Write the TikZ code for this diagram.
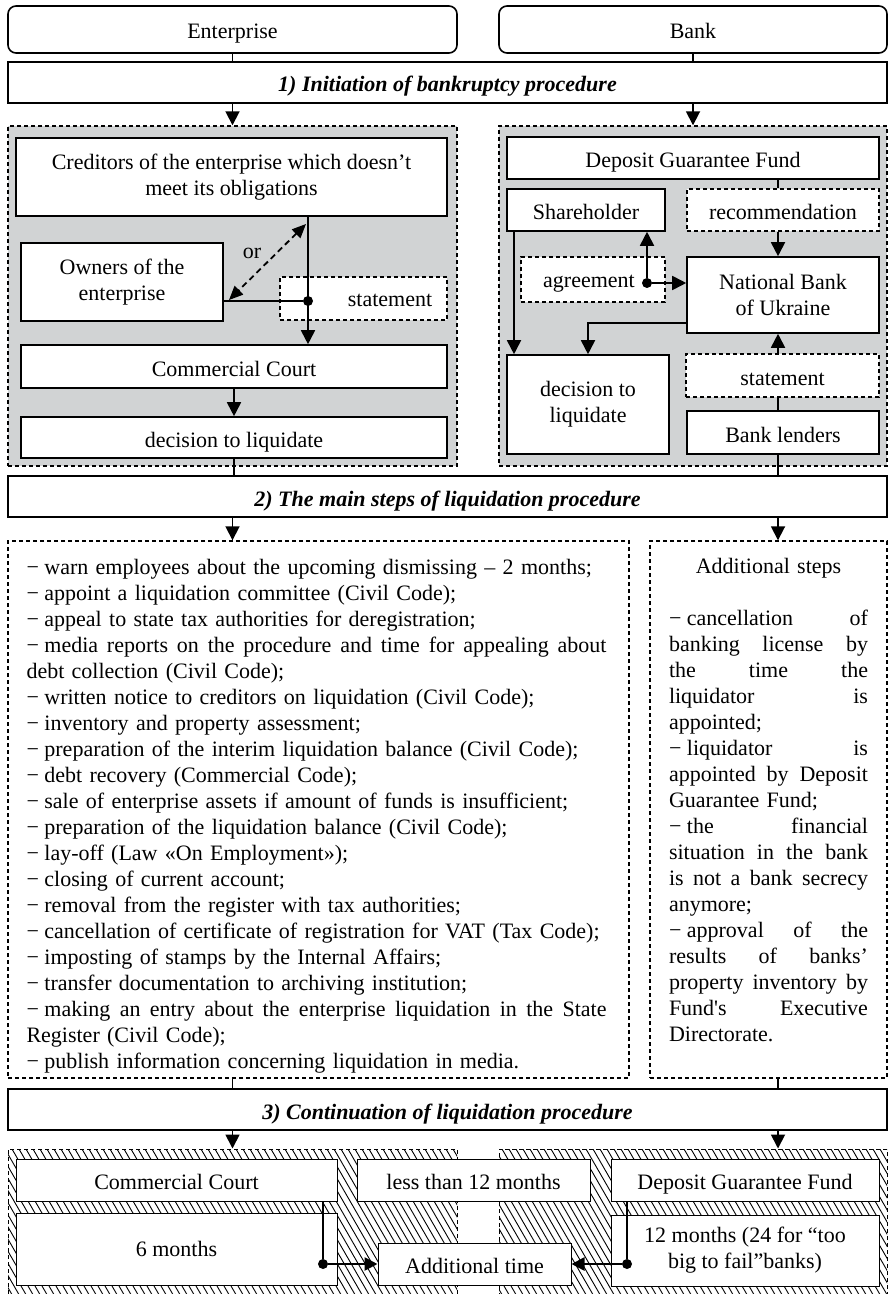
\documentclass[tikz,border=0pt]{standalone}
\usepackage{fontspec}
\setmainfont{Liberation Serif}
\usetikzlibrary{arrows.meta}
\usetikzlibrary{fit}
\definecolor{shade}{HTML}{D1D3D4}
\newcommand{\jl}[2]{\makebox[#1][s]{\spaceskip=.25em plus 1fil\relax#2}}
\newcommand{\mn}{−\hspace{.25em}}
\tikzset{sz/.style 2 args={minimum width=#1*.5pt, minimum height=#2*.5pt}}
\tikzstyle{one} = [text height=9.5pt, text depth=0pt]
\tikzstyle{blk} = [draw, line width=.8pt, fill=white, inner sep=0pt, align=center]
\tikzstyle{dsh} = [blk, line width=.7pt, dash pattern=on 2pt off 1.5pt]
\tikzstyle{lite} = [draw, line width=.5pt, fill=white, inner sep=0pt, align=center]
\tikzstyle{stage} = [blk, one, font=\fontsize{11}{13}\selectfont\bfseries\itshape]
\tikzstyle{zone} = [draw, line width=.7pt, dash pattern=on 2pt off 1.5pt, fill=shade, inner sep=0pt]
\tikzstyle{hzone} = [draw, line width=.5pt, dash pattern=on 2pt off 1.5pt, inner sep=0pt]
\tikzstyle{hatch} = [line width=.45pt]
\tikzstyle{link} = [line width=.9pt]
\tikzstyle{arr} = [link, -{Triangle[length=7pt,width=7pt]}]
\tikzstyle{arrth} = [line width=1.3pt, -{Triangle[length=6.5pt,width=6.5pt]}]
\tikzstyle{jn} = [circle, fill, inner sep=0pt, minimum size=5pt]

\begin{document}
\begin{tikzpicture}[x=.5pt, y=-.5pt, font=\fontsize{11}{13}\selectfont]
\path[use as bounding box, clip] (0,0) rectangle (889,1294);
\coordinate (colR) at (778,0);
\coordinate (colS) at (514,0);
\coordinate (kNB) at (588,323);

\node[blk, one, rounded corners=4pt, sz={449}{47}] (ent) at (232.5,29.5) {Enterprise};
\node[blk, one, rounded corners=4pt, sz={388}{47}] (bank) at (693,29.5) {Bank};
\node[stage, sz={879}{41}] (st1) at (447.5,82.5) {1) Initiation of bankruptcy procedure};
\draw[link] (ent.south) -- (ent.south |- st1.north);
\draw[link] (bank.south) -- (bank.south |- st1.north);

\node[zone, fit={(8,126)(457,466)}] (gL) {};
\node[zone, fit={(499,126)(887,466)}] (gR) {};
\draw[arr] (st1.south -| ent) -- (gL.north -| ent);
\draw[arr] (st1.south -| bank) -- (gR.north -| bank);

\node[blk, sz={431}{78}] (cred) at (231.5,177) {Creditors of the enterprise which doesn’t\\meet its obligations};
\node[blk, sz={202}{78}] (own) at (122,282) {Owners of the\\enterprise};
\node[dsh, fit={(280,277)(447,320)}] (stmL) {};
\node[one] (stmLt) at (390,297) {statement};
\node (or) at (252,253) {or};
\node[blk, one, sz={426}{43}] (courtL) at (234,366.5) {Commercial Court};
\node[blk, one, sz={426}{41}] (decL) at (234,437.5) {decision to liquidate};
\node[jn] (j1) at (308,301) {};
\coordinate (orA) at (306,224);
\coordinate (orB) at (229,300);
\draw[arr] (cred.south -| j1) -- (courtL.north -| j1);
\draw[link] (own.east |- j1) -- (j1);
\draw[link, dash pattern=on 3pt off 2pt, {Triangle[length=7pt,width=6pt]}-{Triangle[length=7pt,width=6pt]}] (orA) -- (orB);
\draw[arr] (courtL) -- (decL);

\node[blk, one, sz={372}{42}] (dgf) at (693,158) {Deposit Guarantee Fund};
\node[blk, one, sz={158}{42}] (sh) at (586,210) {Shareholder};
\node[dsh, one, sz={192}{42}] (rec) at (783,210) {recommendation};
\node[blk, sz={192}{76}] (nbu) at (783,295) {National Bank\\of Ukraine};
\node[dsh, fit={(521,257)(665,302)}] (agr) {};
\node[one] (agrt) at (589,278) {agreement};
\node[blk, sz={162}{99}] (decR) at (588,404.5) {decision to\\liquidate};
\node[dsh, one, sz={193}{43}] (stmR) at (782.5,375.5) {statement};
\node[blk, one, sz={192}{43}] (lend) at (783,432.5) {Bank lenders};
\node[jn] (j2) at (647,283) {};
\draw[link] (dgf.south -| colR) -- (rec.north -| colR);
\draw[arr] (rec.south -| colR) -- (nbu.north -| colR);
\draw[arr] (j2) -- (j2 |- sh.south);
\draw[arr] (j2) -- (nbu.west |- j2);
\draw[arr] (sh.south -| colS) -- (decR.north -| colS);
\draw[arr] (nbu.west |- kNB) -| (decR.north);
\draw[arr] (stmR.north -| colR) -- (nbu.south -| colR);
\draw[link] (lend.north -| colR) -- (stmR.south -| colR);

\node[stage, sz={879}{41}] (st2) at (447.5,496.5) {2) The main steps of liquidation procedure};
\draw[link] (decL.south) -- (decL.south |- st2.north);
\draw[link] (lend.south -| colR) -- (st2.north -| colR);

\node[dsh, sz={621}{537}, text width=292pt, align=left] (lstL) at (318.5,809.5) {%
\rule{0pt}{14.5pt}\mn warn employees about the upcoming dismissing – 2 months;\\
\mn appoint a liquidation committee (Civil Code);\\
\mn appeal to state tax authorities for deregistration;\\
\jl{290pt}{\mn media reports on the procedure and time for appealing about}\\
debt collection (Civil Code);\\
\mn written notice to creditors on liquidation (Civil Code);\\
\mn inventory and property assessment;\\
\mn preparation of the interim liquidation balance (Civil Code);\\
\mn debt recovery (Commercial Code);\\
\mn sale of enterprise assets if amount of funds is insufficient;\\
\mn preparation of the liquidation balance (Civil Code);\\
\mn lay-off (Law «On Employment»);\\
\mn closing of current account;\\
\mn removal from the register with tax authorities;\\
\mbox{\mn cancellation of certificate of registration for VAT (Tax Code);}\\
\mn imposting of stamps by the Internal Affairs;\\
\mn transfer documentation to archiving institution;\\
\jl{290pt}{\mn making an entry about the enterprise liquidation in the State}\\
Register (Civil Code);\\
\mn publish information concerning liquidation in media.};
\node[dsh, sz={237}{537}, text width=99.5pt, align=left] (lstR) at (768.5,809.5) {%
\rule{0pt}{10.5pt}\makebox[99.5pt]{Additional steps}\\
\mbox{}\\
\jl{99.5pt}{\mn cancellation of}\\
\jl{99.5pt}{banking license by}\\
\jl{99.5pt}{the time the}\\
\jl{99.5pt}{liquidator is}\\
appointed;\\
\jl{99.5pt}{\mn liquidator is}\\
\jl{99.5pt}{appointed by Deposit}\\
Guarantee Fund;\\
\jl{99.5pt}{\mn the financial}\\
\jl{99.5pt}{situation in the bank}\\
\jl{99.5pt}{is not a bank secrecy}\\
anymore;\\
\jl{99.5pt}{\mn approval of the}\\
\jl{99.5pt}{results of banks’}\\
\jl{99.5pt}{property inventory by}\\
\jl{99.5pt}{Fund\textquotesingle s Executive}\\
Directorate.\\
\mbox{}};
\draw[arr] (st2.south -| ent) -- (lstL.north -| ent);
\draw[arr] (st2.south -| colR) -- (lstR.north -| colR);

\node[stage, sz={879}{41}] (st3) at (447.5,1109.5) {3) Continuation of liquidation procedure};
\draw[link] (lstL.south -| ent) -- (st3.north -| ent);
\draw[link] (lstR.south -| colR) -- (st3.north -| colR);

\begin{scope}
\clip (8,1149) rectangle (457,1300) (499,1149) rectangle (887,1300);
\foreach \x in {-100,-93,...,900}
  \draw[hatch] (\x,1149) -- ++(90,156);
\end{scope}
\node[hzone, fit={(8,1149)(457,1300)}] (hL) {};
\node[hzone, fit={(499,1149)(887,1300)}] (hR) {};
\draw[arr] (st3.south -| ent) -- (hL.north -| ent);
\draw[arr] (st3.south -| colR) -- (hR.north -| colR);

\node[lite, one, sz={321}{42}] (cc) at (176.5,1180) {Commercial Court};
\node[lite, one, sz={233}{42}] (less) at (473.5,1180) {less than 12 months};
\node[lite, one, sz={268}{42}] (dgf2) at (745,1180) {Deposit Guarantee Fund};
\node[lite, sz={321}{72}] (six) at (176.5,1249) {6 months};
\node[lite, sz={268}{71}] (twelve) at (745,1250.5) {12 months (24 for “too\\big to fail”banks)};
\node[lite, one, sz={193}{42}] (addt) at (474.5,1264) {Additional time};
\node[jn] (j3) at (323,1264) {};
\node[jn] (j4) at (627,1264) {};
\draw[link, line width=.6pt] (cc.south -| j3) -- (j3);
\draw[arrth] (j3) -- (addt.west);
\draw[link, line width=.6pt] (dgf2.south -| j4) -- (j4);
\draw[arrth] (j4) -- (addt.east);
\end{tikzpicture}
\end{document}
